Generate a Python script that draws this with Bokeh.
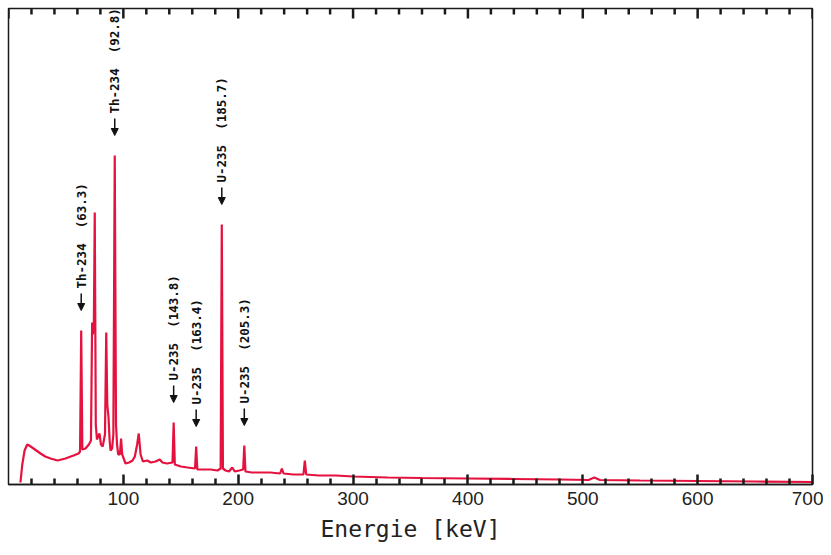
import math
from bokeh.plotting import figure
from bokeh.models import Range1d, ColumnDataSource, FixedTicker, Arrow, NormalHead
from bokeh.core.properties import value
from bokeh.embed import file_html
from bokeh.resources import INLINE

# Spectrum (energy in keV, counts in arbitrary units)
energy = [10.4, 12, 14, 16.3, 18, 21.8, 27.9, 32, 36.6, 42.7, 49.6, 56.6, 61, 62.3, 63.3, 64.3,
          67, 70, 71.8, 72.8, 73.5, 74.3, 75.1, 76, 77, 78, 79.2, 80.5, 82, 84, 85.1, 86, 87.1,
          88, 88.8, 90.2, 91.3, 92.5, 93.6, 94.5, 95.5, 97, 98, 99, 101.9, 105, 108, 110, 112,
          113.4, 115, 117, 120.7, 124, 128, 131.7, 134, 138, 142.8, 143.8, 144.8, 150, 156,
          162.4, 163.4, 164.4, 170, 176, 182, 184.7, 185.7, 186.7, 189, 192, 194.8, 197, 201,
          204.3, 205.3, 206.3, 212, 220, 228, 236.5, 238, 239.5, 248, 256.8, 258, 259.2, 270,
          285, 300, 330, 360, 400, 440, 480, 505, 510, 515, 550, 600, 650, 700]
counts = [2, 20, 34, 40, 39, 36, 31, 28, 26, 24, 26, 29, 31, 33, 154, 35,
          36, 40, 44, 162, 150, 160, 272, 60, 45, 48, 51, 40, 38, 50, 152, 80, 67,
          45, 34, 36, 50, 329, 60, 40, 30, 30, 46, 30, 21, 22, 24, 28, 40,
          51, 30, 23, 24, 22, 23, 25, 22, 21, 22, 62, 20, 18, 17,
          16, 38, 15, 15, 15, 14, 16, 260, 16, 14, 13, 17, 13, 14,
          15, 39, 13, 12, 12, 12, 11, 16, 11, 10, 10, 24, 10, 9,
          9, 8, 7, 6.5, 6, 5.5, 5, 4.5, 7, 4.5, 4, 3.5, 3, 2.5]

# Peak annotations
peak_energy = [63.3, 92.5, 143.8, 163.4, 185.7, 205.3]
peak_height = [154, 329, 62, 38, 260, 39]
NB = "\u00a0"
peak_labels = ["Th-234" + NB * 2 + "(63.3)", "Th-234" + NB * 2 + "(92.8)",
               "U-235" + NB * 2 + "(143.8)", "U-235" + NB * 2 + "(163.4)",
               "U-235" + NB * 2 + "(185.7)", "U-235" + NB * 2 + "(205.3)"]

x_major = [0, 100, 200, 300, 400, 500, 600, 700]
x_minor = list(range(0, 701, 20))
x_labels = [100, 200, 300, 400, 500, 600, 700]

Y_MAX = 476
p = figure(width=823, height=547, output_backend="svg", toolbar_location=None,
           x_range=Range1d(0, 700), y_range=Range1d(0, Y_MAX),
           min_border_left=8, min_border_right=11, min_border_top=8, min_border_bottom=63,
           background_fill_color="white", border_fill_color="white")

p.line(energy, counts, line_color="#e5123f", line_width=2.2)

tick_col = "#1a1a1a"
minor = [t for t in x_minor if t not in x_major]

# inward ticks along the top edge
top_minor = ColumnDataSource(dict(x=minor, y0=[Y_MAX] * len(minor), y1=[Y_MAX - 6] * len(minor)))
p.add_layout(Arrow(source=top_minor, x_start="x", y_start="y0", x_end="x", y_end="y1",
                   line_color=tick_col, line_width=2.5, end=None))
top_major = ColumnDataSource(dict(x=x_major, y0=[Y_MAX] * len(x_major),
                                  y1=[Y_MAX - 10] * len(x_major)))
p.add_layout(Arrow(source=top_major, x_start="x", y_start="y0", x_end="x", y_end="y1",
                   line_color=tick_col, line_width=2.5, end=None))

# arrows pointing down to the peaks, and rotated labels above them
arr = ColumnDataSource(dict(x=peak_energy, ys=[h + 37 for h in peak_height],
                            ye=[h + 20 for h in peak_height]))
p.add_layout(Arrow(source=arr, x_start="x", y_start="ys", x_end="x", y_end="ye",
                   line_color="#111111", line_width=1.5,
                   end=NormalHead(size=7, fill_color="#111111", line_color="#111111")))

src = ColumnDataSource(dict(x=peak_energy, y=peak_height, t=peak_labels))
p.text(x="x", y="y", text="t", source=src, angle=math.pi / 2, y_offset=-42,
       text_align="left", text_baseline="middle", text_color="#111111",
       text_font=value("DejaVu Sans Mono"), text_font_size="12.5px", text_font_style="bold")

p.grid.visible = False
p.yaxis.visible = False
p.outline_line_color = tick_col
p.outline_line_width = 1.5

ax = p.xaxis[0]
ax.ticker = FixedTicker(ticks=x_labels, minor_ticks=minor)
ax.major_tick_in = 10
ax.major_tick_out = 0
ax.minor_tick_in = 6
ax.minor_tick_out = 0
ax.major_tick_line_color = tick_col
ax.minor_tick_line_color = tick_col
ax.major_tick_line_width = 2.5
ax.minor_tick_line_width = 2.5
ax.axis_line_width = 1.5
ax.axis_line_color = tick_col
ax.major_label_text_font = "Liberation Sans"
ax.major_label_text_font_size = "19px"
ax.major_label_text_color = "#222222"
ax.major_label_standoff = 7
ax.axis_label = "Energie [keV]"
ax.axis_label_text_font = "DejaVu Sans Mono"
ax.axis_label_text_font_size = "23px"
ax.axis_label_text_font_style = "normal"
ax.axis_label_text_color = "#222222"
ax.axis_label_standoff = 8

open("out.html", "w").write(file_html(p, INLINE))
